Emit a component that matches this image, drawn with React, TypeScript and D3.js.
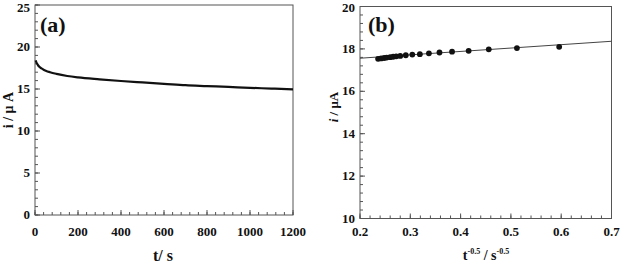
import React from 'react'
import * as d3 from 'd3'

// panel (a): chronoamperogram
const timeS = [3, 6, 10, 15, 20, 30, 40, 50, 70, 100, 150, 200, 300, 400, 500, 600, 700, 800, 900, 1000, 1100, 1200]
const currentA = [18.4, 18.2, 18.0, 17.8, 17.65, 17.45, 17.3, 17.18, 17.0, 16.8, 16.55, 16.38, 16.15, 15.95, 15.78, 15.62, 15.45, 15.35, 15.25, 15.14, 15.05, 14.95]

// panel (b): Cottrell plot
const invSqrtT = [0.236, 0.242, 0.248, 0.253, 0.26, 0.266, 0.272, 0.28, 0.291, 0.304, 0.319, 0.337, 0.358, 0.383, 0.416, 0.456, 0.512, 0.596]
const currentB = [17.53, 17.55, 17.57, 17.59, 17.61, 17.63, 17.65, 17.67, 17.7, 17.73, 17.75, 17.79, 17.83, 17.87, 17.91, 17.98, 18.04, 18.1]
const fitX = [0.2, 0.7]
const fitY = [17.56, 18.36]

const ticksAx = [0, 200, 400, 600, 800, 1000, 1200]
const ticksAy = [0, 5, 10, 15, 20, 25]
const ticksBx = [0.2, 0.3, 0.4, 0.5, 0.6, 0.7]
const ticksBy = [10, 12, 14, 16, 18, 20]

const serif = { fontFamily: "'Liberation Serif', 'DejaVu Serif', serif" }

function Frame({ x, y, xTicks, yTicks, xMinor, yMinor, fmtX }: any) {
  const [x0, x1] = x.range()
  const [y0, y1] = y.range()
  return (
    <g style={serif} fontWeight="bold" fontSize={13} fill="#111">
      <rect x={x0} y={y1} width={x1 - x0} height={y0 - y1} fill="none" stroke="#555" strokeWidth={1} />
      {xMinor.map((t: number, i: number) => (
        <line key={'xm' + i} x1={x(t)} x2={x(t)} y1={y0} y2={y0 - 3} stroke="#555" />
      ))}
      {xTicks.map((t: number) => (
        <g key={'x' + t}>
          <line x1={x(t)} x2={x(t)} y1={y0} y2={y0 - 5} stroke="#555" />
          <text x={x(t)} y={236} textAnchor="middle">{fmtX(t)}</text>
        </g>
      ))}
      {yMinor.map((t: number, i: number) => (
        <line key={'ym' + i} x1={x0} x2={x0 + 3} y1={y(t)} y2={y(t)} stroke="#555" />
      ))}
      {yTicks.map((t: number) => (
        <g key={'y' + t}>
          <line x1={x0} x2={x0 + 5} y1={y(t)} y2={y(t)} stroke="#555" />
          <text x={x0 - 5} y={Math.max(y(t) + 4, 12)} textAnchor="end">{t}</text>
        </g>
      ))}
    </g>
  )
}

export default function App() {
  const xa = d3.scaleLinear().domain([0, 1200]).range([35, 293])
  const ya = d3.scaleLinear().domain([0, 25]).range([215, 5])
  const xb = d3.scaleLinear().domain([0.2, 0.7]).range([360, 611.5])
  const yb = d3.scaleLinear().domain([10, 20]).range([218.5, 6.5])

  const lineA = d3.line<number>()
    .x((_, i) => xa(timeS[i]))
    .y(d => ya(d))
    .curve(d3.curveMonotoneX)
  const lineB = d3.line<number>()
    .x((_, i) => xb(fitX[i]))
    .y(d => yb(d))

  const minorAx = d3.range(0, 1200.1, 40)
  const minorAy = d3.range(0, 25.1, 1)
  const minorBx = d3.range(0.2, 0.7001, 0.02)
  const minorBy = d3.range(10, 20.01, 0.4)

  return (
    <svg width={620} height={264} style={{ position: 'absolute', left: 0, top: 0, background: '#fff' }}>
      <Frame x={xa} y={ya} xTicks={ticksAx} yTicks={ticksAy} xMinor={minorAx} yMinor={minorAy} fmtX={(t: number) => t} />
      <path d={lineA(currentA) || ''} fill="none" stroke="#111" strokeWidth={2.2} />
      <text x={40} y={32} style={serif} fontWeight="bold" fontSize={22} fill="#111">(a)</text>
      <text x={163} y={261} textAnchor="middle" style={serif} fontWeight="bold" fontSize={16} fill="#111">t/ s</text>
      <text transform="translate(13,110) rotate(-90)" textAnchor="middle" style={serif} fontWeight="bold" fontSize={14} fill="#111">i / μ A</text>

      <Frame x={xb} y={yb} xTicks={ticksBx} yTicks={ticksBy} xMinor={minorBx} yMinor={minorBy} fmtX={(t: number) => t.toFixed(1)} />
      <path d={lineB(fitY) || ''} fill="none" stroke="#444" strokeWidth={1} />
      {invSqrtT.map((v, i) => (
        <circle key={i} cx={xb(v)} cy={yb(currentB[i])} r={2.9} fill="#111" />
      ))}
      <text x={368} y={32} style={serif} fontWeight="bold" fontSize={22} fill="#111">(b)</text>
      <text x={486} y={260} textAnchor="middle" style={serif} fontWeight="bold" fontSize={14} fill="#111">
        t<tspan fontSize={8} dy={-6}>-0.5</tspan><tspan dy={6}> / s</tspan><tspan fontSize={8} dy={-6}>-0.5</tspan>
      </text>
      <text transform="translate(338,107) rotate(-90)" textAnchor="middle" style={serif} fontWeight="bold" fontSize={13} fill="#111">
        <tspan fontStyle="italic">i</tspan> / μA
      </text>
    </svg>
  )
}
